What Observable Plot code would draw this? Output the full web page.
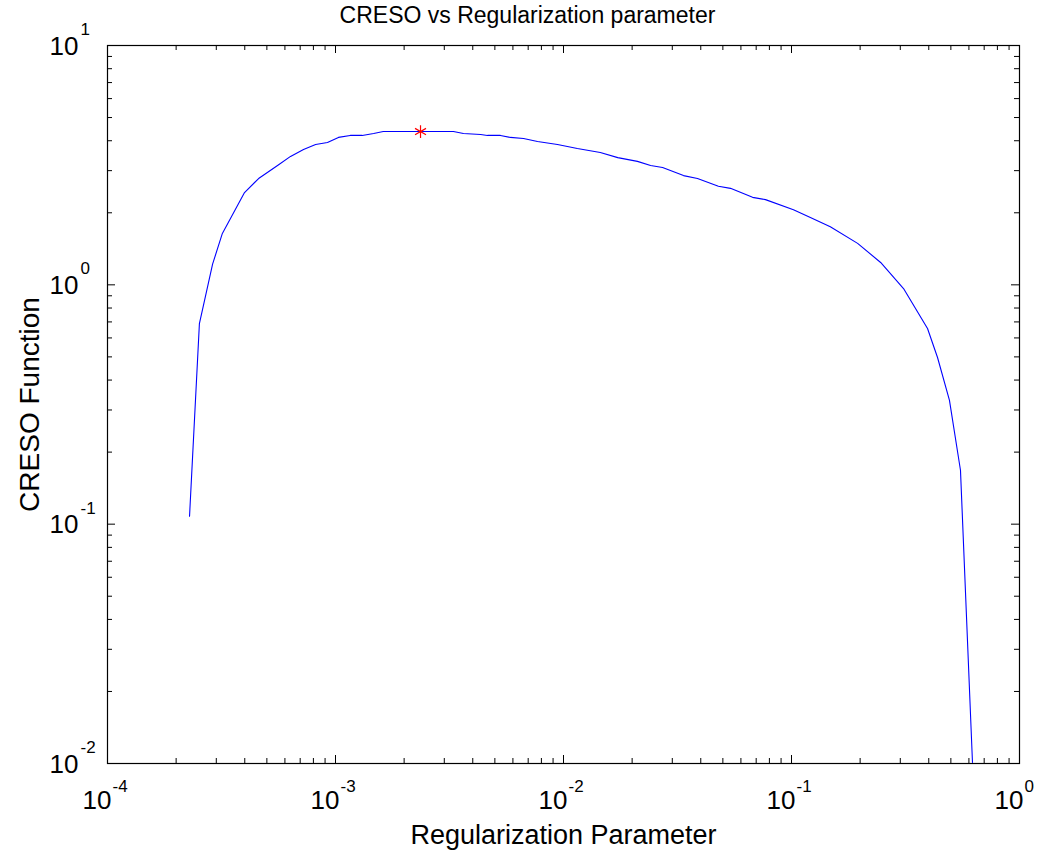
<!DOCTYPE html>
<html>
<head>
<meta charset="utf-8">
<script src="https://cdn.jsdelivr.net/npm/d3@7"></script>
<script src="https://cdn.jsdelivr.net/npm/@observablehq/plot@0.6"></script>
<style>
  html, body { margin: 0; padding: 0; background: #ffffff; }
  #chart svg { display: block; }
</style>
</head>
<body>
<div id="chart"></div>
<script>
// ---- data ----
const lambda = [2.29e-4, 2.53e-4, 2.89e-4, 3.19e-4, 3.99e-4, 4.60e-4, 5.57e-4, 6.35e-4, 7.24e-4, 8.18e-4,
  9.22e-4, 1.03e-3, 1.16e-3, 1.31e-3, 1.47e-3, 1.62e-3, 2.20e-3, 3.29e-3, 3.64e-3, 4.33e-3,
  4.64e-3, 5.29e-3, 5.85e-3, 6.68e-3, 7.69e-3, 9.41e-3, 1.15e-2, 1.45e-2, 1.73e-2, 2.11e-2,
  2.41e-2, 2.72e-2, 3.36e-2, 3.87e-2, 4.78e-2, 5.40e-2, 6.75e-2, 7.69e-2, 0.102, 0.121,
  0.148, 0.195, 0.246, 0.310, 0.395, 0.437, 0.493, 0.551, 0.622];
const creso = [0.108, 0.689, 1.22, 1.64, 2.43, 2.78, 3.15, 3.44, 3.68, 3.86,
  3.93, 4.13, 4.21, 4.21, 4.29, 4.37, 4.37, 4.37, 4.29, 4.25,
  4.21, 4.21, 4.13, 4.09, 3.97, 3.86, 3.71, 3.57, 3.40, 3.28,
  3.15, 3.09, 2.86, 2.78, 2.58, 2.53, 2.32, 2.27, 2.06, 1.91,
  1.75, 1.49, 1.24, 0.965, 0.657, 0.497, 0.329, 0.168, 0.0101];
const optLambda = [2.36e-3];
const optCreso = [4.37];
const xDecades = [-4, -3, -2, -1, 0];
const yDecades = [-2, -1, 0, 1];
const titleText = "CRESO vs Regularization parameter";
const xLabelText = "Regularization Parameter";
const yLabelText = "CRESO Function";

// ---- layout ----
const W = 1053, H = 854;
const mt = 45, mb = 91, ml = 107, mr = 34;
const pw = W - ml - mr, ph = H - mt - mb;
const minorLen = 5, majorLen = 8;
const font = "Arial, 'Liberation Sans', Helvetica, sans-serif";

const minorX = [];
for (let k = -4; k <= -1; k++) for (let m = 2; m <= 9; m++) minorX.push(m * 10 ** k);
const minorY = [];
for (let k = -2; k <= 0; k++) for (let m = 2; m <= 9; m++) minorY.push(m * 10 ** k);
const majorX = xDecades.map(e => 10 ** e);
const majorY = yDecades.map(e => 10 ** e);

const curve = lambda.map((l, i) => ({l, c: creso[i]}));
const opt = optLambda.map((l, i) => ({l, c: optCreso[i]}));

const chart = Plot.plot({
  width: W, height: H,
  marginTop: mt, marginBottom: mb, marginLeft: ml, marginRight: mr,
  style: {fontFamily: font, background: "#ffffff", color: "#000"},
  x: {type: "log", domain: [1e-4, 1], axis: null},
  y: {type: "log", domain: [1e-2, 10], axis: null},
  marks: [
    // inward tick marks on all four sides
    Plot.tickX(minorX, {x: d => d, insetBottom: ph - minorLen, stroke: "#000"}),
    Plot.tickX(minorX, {x: d => d, insetTop: ph - minorLen, stroke: "#000"}),
    Plot.tickX(majorX, {x: d => d, insetBottom: ph - majorLen, stroke: "#000"}),
    Plot.tickX(majorX, {x: d => d, insetTop: ph - majorLen, stroke: "#000"}),
    Plot.tickY(minorY, {y: d => d, insetRight: pw - minorLen, stroke: "#000"}),
    Plot.tickY(minorY, {y: d => d, insetLeft: pw - minorLen, stroke: "#000"}),
    Plot.tickY(majorY, {y: d => d, insetRight: pw - majorLen, stroke: "#000"}),
    Plot.tickY(majorY, {y: d => d, insetLeft: pw - majorLen, stroke: "#000"}),
    Plot.frame({stroke: "#000", strokeWidth: 1.2}),
    // curve
    Plot.line(curve, {x: "l", y: "c", stroke: "#0000ff", strokeWidth: 1.1, clip: true}),
    Plot.dot(opt, {x: "l", y: "c", symbol: "asterisk", r: 6, stroke: "#ff0000", strokeWidth: 1.2}),
    // x tick labels (10 with superscript exponent); baseline placed at y + dy
    Plot.text(xDecades, {x: e => 10 ** e, text: () => "10", frameAnchor: "bottom", lineAnchor: "bottom",
      textAnchor: "end", dx: 4, dy: 45, fontSize: 26, fill: "#000"}),
    Plot.text(xDecades, {x: e => 10 ** e, text: e => String(e), frameAnchor: "bottom", lineAnchor: "bottom",
      textAnchor: "start", dx: 5, dy: 28, fontSize: 17, fill: "#000"}),
    // y tick labels
    Plot.text(yDecades, {y: e => 10 ** e, text: () => "10", frameAnchor: "left", lineAnchor: "middle",
      textAnchor: "end", dx: -29, dy: 1, fontSize: 26, fill: "#000"}),
    Plot.text(yDecades, {y: e => 10 ** e, text: e => String(e), frameAnchor: "left", lineAnchor: "middle",
      textAnchor: "start", dx: -27, dy: -16, fontSize: 17, fill: "#000"}),
    // axis labels and title
    Plot.text([xLabelText], {text: d => d, frameAnchor: "bottom", lineAnchor: "bottom",
      textAnchor: "middle", dy: 80, fontSize: 27, fill: "#000"}),
    Plot.text([yLabelText], {text: d => d, frameAnchor: "left", lineAnchor: "middle",
      textAnchor: "middle", dx: -77, rotate: -90, fontSize: 28, fill: "#000"}),
    Plot.text([titleText], {text: d => d, frameAnchor: "top", lineAnchor: "top",
      textAnchor: "middle", dx: -36, dy: -39, fontSize: 23, fill: "#000"})
  ]
});
document.getElementById("chart").appendChild(chart);
</script>
</body>
</html>
